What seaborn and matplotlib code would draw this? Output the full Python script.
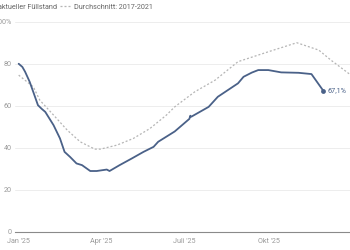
import matplotlib
matplotlib.use("Agg")
import matplotlib.pyplot as plt
import seaborn as sns
import pandas as pd
import numpy as np
from matplotlib.lines import Line2D

# --- data ---
cur_dates = ["2025-01-01", "2025-01-05", "2025-01-08", "2025-01-13", "2025-01-17", "2025-01-22",
             "2025-01-26", "2025-01-30", "2025-02-08", "2025-02-15", "2025-02-20", "2025-02-26",
             "2025-03-05", "2025-03-11", "2025-03-20", "2025-03-27", "2025-04-07",
             "2025-04-10", "2025-04-21", "2025-05-04", "2025-05-17", "2025-05-28",
             "2025-06-02", "2025-06-20", "2025-07-06", "2025-07-07", "2025-07-08",
             "2025-07-27", "2025-08-06", "2025-08-28", "2025-09-03", "2025-09-12", "2025-09-19",
             "2025-09-30", "2025-10-14", "2025-11-02", "2025-11-16", "2025-11-29"]
cur_values = [80.0, 78.5, 76.2, 71.4, 66.5, 60.3,
              58.6, 57.1, 50.8, 44.5, 38.1, 35.7,
              32.6, 31.8, 29.0, 29.0, 29.7,
              29.0, 31.8, 34.9, 38.1, 40.5,
              42.9, 47.8, 53.8, 55.3, 54.8,
              59.5, 64.3, 70.7, 73.8, 75.8, 77.0,
              77.0, 75.9, 75.7, 75.1, 67.1]

avg_dates = ["2025-01-01", "2025-01-17", "2025-01-24", "2025-02-08", "2025-02-23",
             "2025-03-09", "2025-03-25", "2025-03-31", "2025-04-18", "2025-05-06",
             "2025-05-24", "2025-06-11", "2025-06-20", "2025-07-12", "2025-08-03",
             "2025-08-28", "2025-09-30", "2025-10-31", "2025-11-24", "2025-12-07",
             "2025-12-29"]
avg_values = [74.6, 69.0, 62.7, 55.6, 48.4,
              42.9, 39.4, 39.4, 41.3, 44.5,
              49.2, 55.6, 59.5, 66.7, 72.2,
              81.0, 85.7, 90.0, 86.5, 81.8,
              74.6]

tick_dates = ["2025-01-01", "2025-04-01", "2025-07-01", "2025-10-01"]
tick_labels = ["Jan '25", "Apr '25", "Juli '25", "Okt '25"]
y_ticks = [0, 20, 40, 60, 80, 100]
y_labels = ["0", "20", "40", "60", "80", "100%"]
label_last = "67,1%"
legend_labels = ["aktueller Füllstand", "Durchschnitt: 2017-2021"]

cur = pd.DataFrame({"date": pd.to_datetime(cur_dates), "value": cur_values})
avg = pd.DataFrame({"date": pd.to_datetime(avg_dates), "value": avg_values})

sns.set_style("white")
plt.rcParams["font.family"] = ["Roboto", "DejaVu Sans"]

BLUE = "#4a6188"
GREY = "#b5b5b5"
TXT = "#9a9a9a"
FS = 5.2

fig = plt.figure(figsize=(3.5, 2.5), dpi=100)
ax = fig.add_axes([15 / 350, 1 - 232 / 250, 1 - 15 / 350, (232 - 21.7) / 250])

sns.lineplot(data=avg, x="date", y="value", ax=ax, color=GREY, lw=0.9,
             dashes=False, linestyle=(0, (1.6, 1.6)))
sns.lineplot(data=cur, x="date", y="value", ax=ax, color=BLUE, lw=1.3)
last = cur.iloc[-1]
ax.scatter([last["date"]], [last["value"]], s=12, color=BLUE, zorder=5, linewidths=0)
ax.annotate(label_last, (last["date"], last["value"]), xytext=(3, 0),
            textcoords="offset points", va="center", ha="left",
            fontsize=FS, color=BLUE)

ax.set_xlim(pd.Timestamp("2024-12-28"), pd.Timestamp("2025-12-28"))
ax.set_ylim(0, 100)
ax.set_yticks(y_ticks)
ax.set_yticklabels(y_labels)
ax.set_xticks(pd.to_datetime(tick_dates))
ax.set_xticklabels(tick_labels)
ax.set_xlabel("")
ax.set_ylabel("")

for s in ["top", "right", "left"]:
    ax.spines[s].set_visible(False)
ax.spines["bottom"].set_color("#8a8a8a")
ax.spines["bottom"].set_linewidth(0.8)
ax.grid(axis="y", color="#ededed", lw=0.7)
ax.grid(axis="x", visible=False)
ax.tick_params(axis="y", length=0, pad=2.5, labelsize=FS, labelcolor=TXT)
ax.tick_params(axis="x", length=2.5, width=0.6, color="#8a8a8a", pad=2,
               labelsize=FS, labelcolor=TXT)

handles = [Line2D([0], [0], color=BLUE, lw=1.3),
           Line2D([0], [0], color=GREY, lw=0.9, linestyle=(0, (1.6, 1.6)))]
fig.legend(handles, legend_labels, loc="upper left", bbox_to_anchor=(-0.058, 1.005),
           ncol=2, frameon=False, fontsize=FS, handlelength=1.5,
           handletextpad=0.4, columnspacing=0.35, borderpad=0.2, labelcolor="#666666")

fig.savefig("out.png", dpi=100)
